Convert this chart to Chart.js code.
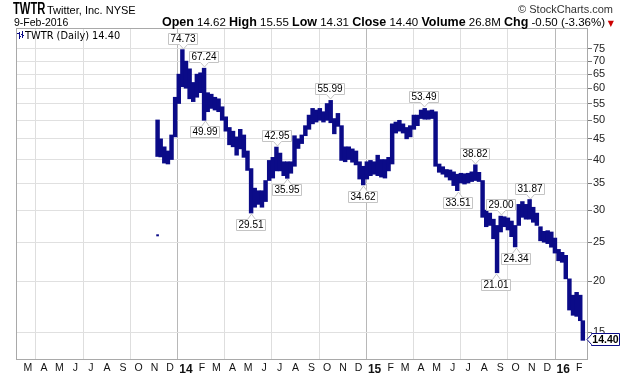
<!DOCTYPE html>
<html>
<head>
<meta charset="utf-8">
<script src="https://cdn.jsdelivr.net/npm/chart.js@4.4.1/dist/chart.umd.min.js"></script>
<style>
  body { margin: 0; background: #fff; }
  #wrap { position: relative; width: 620px; height: 376px; font-family: "Liberation Sans", Arial, sans-serif; color: #000; }
  #chart { position: absolute; left: 0; top: 0; }
  .hdr { position: absolute; white-space: nowrap; font-size: 11.5px; line-height: 13px; }
  .hdr b { font-size: 12.5px; }
  #sym { display: inline-block; font-weight: bold; font-size: 16px; line-height: 16px; transform: scaleX(0.7); transform-origin: left center; }
</style>
</head>
<body>
<div id="wrap">
  <canvas id="chart" width="620" height="376"></canvas>
  <div class="hdr" style="left:13px; top:1px;"><span id="sym">TWTR</span></div>
  <div class="hdr" style="left:47px; top:4px; font-size:11px;">Twitter, Inc. NYSE</div>
  <div class="hdr" style="right:7px; top:3px; color:#333; font-size:11px;">© StockCharts.com</div>
  <div class="hdr" style="left:14px; top:16px; font-size:10.5px;">9-Feb-2016</div>
  <div class="hdr" style="right:15px; top:16px;"><b>Open</b> 14.62 <b>High</b> 15.55 <b>Low</b> 14.31 <b>Close</b> 14.40 <b>Volume</b> 26.8M <b>Chg</b> -0.50 (-3.36%)</div>
  <div class="hdr" style="right:6px; top:17px; color:#cc0000; font-family:'DejaVu Sans',sans-serif; font-size:8px;">▼</div>
</div>
<script>
// TWTR daily chart, drawn as weekly high-low bars
const monthLetters = ['J', 'F', 'M', 'A', 'M', 'J', 'J', 'A', 'S', 'O', 'N', 'D'];
const yTicks = [15, 20, 25, 30, 35, 40, 45, 50, 55, 60, 65, 70, 75];
const lastClose = 14.40;

// week (mid-week date) of each bar
const weekDates = [
  '2013-11-07', '2013-11-13', '2013-11-20', '2013-11-27', '2013-12-04', '2013-12-11', '2013-12-18', '2013-12-25',
  '2014-01-01', '2014-01-08', '2014-01-15', '2014-01-22', '2014-01-29', '2014-02-05', '2014-02-12', '2014-02-19',
  '2014-02-26', '2014-03-05', '2014-03-12', '2014-03-19', '2014-03-26', '2014-04-02', '2014-04-09', '2014-04-16',
  '2014-04-23', '2014-04-30', '2014-05-07', '2014-05-14', '2014-05-21', '2014-05-28', '2014-06-04', '2014-06-11',
  '2014-06-18', '2014-06-25', '2014-07-02', '2014-07-09', '2014-07-16', '2014-07-23', '2014-07-30', '2014-08-06',
  '2014-08-13', '2014-08-20', '2014-08-27', '2014-09-03', '2014-09-10', '2014-09-17', '2014-09-24', '2014-10-01',
  '2014-10-08', '2014-10-15', '2014-10-22', '2014-10-29', '2014-11-05', '2014-11-12', '2014-11-19', '2014-11-26',
  '2014-12-03', '2014-12-10', '2014-12-17', '2014-12-24', '2014-12-31', '2015-01-07', '2015-01-14', '2015-01-21',
  '2015-01-28', '2015-02-04', '2015-02-11', '2015-02-18', '2015-02-25', '2015-03-04', '2015-03-11', '2015-03-18',
  '2015-03-25', '2015-04-01', '2015-04-08', '2015-04-15', '2015-04-22', '2015-04-29', '2015-05-06', '2015-05-13',
  '2015-05-20', '2015-05-27', '2015-06-03', '2015-06-10', '2015-06-17', '2015-06-24', '2015-07-01', '2015-07-08',
  '2015-07-15', '2015-07-22', '2015-07-29', '2015-08-05', '2015-08-12', '2015-08-19', '2015-08-26', '2015-09-02',
  '2015-09-09', '2015-09-16', '2015-09-23', '2015-09-30', '2015-10-07', '2015-10-14', '2015-10-21', '2015-10-28',
  '2015-11-04', '2015-11-11', '2015-11-18', '2015-11-25', '2015-12-02', '2015-12-09', '2015-12-16', '2015-12-23',
  '2015-12-30', '2016-01-06', '2016-01-13', '2016-01-20', '2016-01-27', '2016-02-03', '2016-02-08'
];

const weekLow = [
  40.7, 40.6, 39.2, 39.0, 40.0, 45.5, 55.0, 60.5,
  60.0, 56.5, 55.6, 57.0, 58.5, 49.99, 52.5, 53.5,
  53.0, 52.5, 50.0, 47.0, 43.5, 43.0, 41.0, 42.5,
  40.5, 37.6, 29.51, 30.5, 31.0, 30.5, 31.5, 35.5,
  36.0, 37.5, 37.5, 36.5, 35.95, 37.0, 38.5, 42.6,
  43.8, 45.8, 47.5, 49.0, 49.5, 50.0, 49.5, 50.0,
  49.3, 46.3, 48.3, 39.8, 39.5, 40.0, 39.4, 38.8,
  35.8, 34.62, 35.8, 36.5, 36.8, 36.5, 36.2, 36.0,
  37.5, 39.0, 46.5, 47.0, 46.5, 45.0, 45.5, 47.5,
  48.5, 50.5, 50.3, 50.3, 50.5, 38.5, 37.2, 36.8,
  36.2, 35.6, 34.5, 33.51, 35.0, 34.8, 35.0, 35.3,
  35.5, 35.3, 28.8, 27.3, 27.5, 25.5, 21.01, 26.5,
  27.3, 26.8, 25.8, 24.34, 27.5, 28.8, 28.5, 28.5,
  28.0, 27.5, 25.2, 25.0, 24.8, 24.3, 23.5, 22.5,
  22.3, 20.3, 17.0, 16.5, 16.4, 16.0, 14.31
];

const weekHigh = [
  50.1, 45.0, 43.0, 42.0, 46.0, 57.0, 65.0, 74.73,
  70.0, 67.0, 62.0, 65.0, 65.5, 67.24, 58.5, 58.0,
  57.0, 56.5, 54.0, 51.0, 48.0, 47.0, 45.5, 47.5,
  46.0, 42.0, 38.0, 34.0, 33.5, 33.5, 35.5, 39.8,
  40.5, 42.95, 41.5, 39.5, 39.5, 39.5, 45.8, 45.0,
  46.0, 48.5, 51.5, 53.5, 53.0, 53.5, 52.5, 55.0,
  55.99, 50.5, 52.0, 48.5, 43.0, 43.0, 42.5, 42.0,
  39.5, 38.5, 39.5, 39.8, 39.5, 41.0, 40.0, 40.0,
  40.5, 49.0, 49.5, 50.0, 49.0, 48.0, 48.5, 51.5,
  51.5, 53.0, 53.49, 52.8, 53.0, 52.5, 39.0, 38.4,
  37.8, 37.7, 37.3, 36.8, 37.0, 36.9, 37.0, 37.3,
  38.82, 37.2, 35.5, 30.0, 29.5, 28.5, 27.5, 29.0,
  28.9, 28.7, 28.2, 27.5, 31.0, 31.5, 31.0, 31.87,
  30.5, 29.5, 27.3, 26.6, 26.7, 26.5, 25.6, 24.0,
  23.6, 23.2, 20.3, 18.5, 18.8, 18.5, 16.0
];

// the lone print at the IPO price
const ipoDate = '2013-11-07';
const ipoRange = [25.9, 26.1];

// high / low call-outs
const annDates = ['2013-12-26', '2014-02-04', '2014-02-06', '2014-05-07', '2014-06-26', '2014-07-16', '2014-10-07', '2014-12-09',
  '2015-04-07', '2015-06-12', '2015-07-14', '2015-08-24', '2015-09-02', '2015-10-01', '2015-10-28'];
const annValues = [74.73, 67.24, 49.99, 29.51, 42.95, 35.95, 55.99, 34.62, 53.49, 33.51, 38.82, 21.01, 29.00, 24.34, 31.87];
const annAbove = [true, true, false, false, true, false, true, false, true, false, true, false, true, false, true];

const NAVY = '#0b0b88';
const BASE = Date.UTC(2013, 2, 1);
function dayNum(s) {
    const p = s.split('-').map(Number);
    return (Date.UTC(p[0], p[1] - 1, p[2]) - BASE) / 86400000;
}
function monthOf(v) {
    return new Date(BASE + v * 86400000).getUTCMonth();
}

const bars = weekDates.map((d, i) => ({ x: dayNum(d), y: [weekLow[i], weekHigh[i]] }));

const overlay = {
    id: 'overlay',
    beforeDatasetsDraw(chart) {
        const { ctx, chartArea: a } = chart;
        ctx.save();
        ctx.strokeStyle = '#a9a9a9';
        ctx.lineWidth = 1;
        ctx.strokeRect(a.left + 0.5, a.top + 0.5, a.right - a.left - 1, a.bottom - a.top);
        ctx.restore();
    },
    afterDraw(chart) {
        const { ctx, chartArea: a, scales } = chart;
        const xs = scales.x, ys = scales.y;
        ctx.save();
        ctx.font = '10px "Liberation Sans", Arial, sans-serif';
        ctx.textBaseline = 'middle';
        ctx.textAlign = 'center';

        // call-out boxes
        annValues.forEach((v, i) => {
            const px = Math.round(xs.getPixelForValue(dayNum(annDates[i])));
            const py = Math.round(ys.getPixelForValue(v));
            const txt = v.toFixed(2);
            const w = Math.round(ctx.measureText(txt).width) + 4, h = 11;
            const left = px - Math.round(w / 2) + 0.5;
            let top;
            ctx.beginPath();
            if (annAbove[i]) {
                top = py - 6 - h + 0.5;
                ctx.moveTo(left, top);
                ctx.lineTo(left + w, top);
                ctx.lineTo(left + w, top + h);
                ctx.lineTo(px + 4.5, top + h);
                ctx.lineTo(px + 0.5, py - 1);
                ctx.lineTo(px - 3.5, top + h);
                ctx.lineTo(left, top + h);
            } else {
                top = py + 6 + 0.5;
                ctx.moveTo(left, top);
                ctx.lineTo(px - 3.5, top);
                ctx.lineTo(px + 0.5, py + 1);
                ctx.lineTo(px + 4.5, top);
                ctx.lineTo(left + w, top);
                ctx.lineTo(left + w, top + h);
                ctx.lineTo(left, top + h);
            }
            ctx.closePath();
            ctx.fillStyle = '#fff';
            ctx.fill();
            ctx.strokeStyle = '#c4c4c4';
            ctx.lineWidth = 1;
            ctx.stroke();
            ctx.fillStyle = '#000';
            ctx.fillText(txt, left + w / 2, top + h / 2 + 0.5);
        });

        // legend inside the plot
        ctx.fillStyle = NAVY;
        ctx.fillRect(19, 32, 1, 7);
        ctx.fillRect(17, 33, 2, 1);
        ctx.fillRect(20, 36, 1, 1);
        ctx.fillRect(22, 31, 1, 7);
        ctx.fillRect(21, 34, 1, 1);
        ctx.fillRect(23, 35, 1, 1);
        ctx.textAlign = 'left';
        ctx.fillStyle = '#000';
        ctx.font = '9.8px "DejaVu Sans", sans-serif';
        ctx.fillText('TWTR (Daily) ' + lastClose.toFixed(2), 25, 36);

        // last price tag on the axis
        const ly = Math.round(ys.getPixelForValue(lastClose)) + 0.5;
        const bx = a.right + 3.5, bw = 28, bh = 12;
        ctx.beginPath();
        ctx.moveTo(a.right - 1, ly);
        ctx.lineTo(bx, ly - 5);
        ctx.lineTo(bx, ly - bh / 2);
        ctx.lineTo(bx + bw, ly - bh / 2);
        ctx.lineTo(bx + bw, ly + bh / 2);
        ctx.lineTo(bx, ly + bh / 2);
        ctx.lineTo(bx, ly + 5);
        ctx.closePath();
        ctx.fillStyle = '#fff';
        ctx.fill();
        ctx.strokeStyle = NAVY;
        ctx.stroke();
        ctx.fillStyle = '#000';
        ctx.font = 'bold 10.5px "Liberation Sans", Arial, sans-serif';
        ctx.textAlign = 'center';
        ctx.fillText(lastClose.toFixed(2), bx + bw / 2, ly + 0.5);
        ctx.restore();
    }
};

const ctx = document.getElementById('chart');
new Chart(ctx, {
    type: 'bar',
    data: {
        datasets: [{
            data: bars,
            backgroundColor: NAVY,
            barThickness: 3.8,
            grouped: false
        }, {
            data: [{ x: dayNum(ipoDate), y: ipoRange }],
            backgroundColor: NAVY,
            barThickness: 2,
            grouped: false
        }]
    },
    options: {
        responsive: false,
        animation: false,
        layout: { padding: { left: 16, top: 28, right: 0, bottom: 0 } },
        plugins: { legend: { display: false }, tooltip: { enabled: false } },
        scales: {
            x: {
                type: 'linear',
                min: -23,
                max: 1084,
                offset: false,
                afterBuildTicks(scale) {
                    const t = [];
                    for (let i = 0; i < 36; i++) {
                        const m = (2 + i) % 12, y = 2013 + Math.floor((2 + i) / 12);
                        t.push({ value: dayNum(y + '-' + String(m + 1).padStart(2, '0') + '-01') });
                    }
                    scale.ticks = t;
                },
                afterFit(scale) { scale.height = 17; },
                ticks: {
                    autoSkip: false,
                    maxRotation: 0,
                    minRotation: 0,
                    padding: 3,
                    color: '#111',
                    callback(v) {
                        const m = monthOf(v);
                        if (m === 0) return String(new Date(BASE + v * 86400000).getUTCFullYear() % 100);
                        return monthLetters[m];
                    },
                    font(c) {
                        const jan = c.tick && monthOf(c.tick.value) === 0;
                        return { family: '"Liberation Sans", Arial, sans-serif', size: jan ? 12 : 10.5, weight: jan ? 'bold' : 'normal' };
                    }
                },
                grid: {
                    drawTicks: false,
                    color(c) {
                        if (!c.tick) return 'rgba(0,0,0,0)';
                        const m = monthOf(c.tick.value);
                        if (m === 0) return '#b8b8b8';
                        return m % 3 === 0 ? '#dedede' : 'rgba(0,0,0,0)';
                    }
                },
                border: { display: false }
            },
            y: {
                type: 'logarithmic',
                position: 'right',
                min: 12.87,
                max: 84.5,
                afterBuildTicks(scale) {
                    scale.ticks = yTicks.map(v => ({ value: v }));
                },
                afterFit(scale) { scale.width = 32; },
                ticks: {
                    autoSkip: false,
                    padding: 1,
                    color: '#222',
                    font: { family: '"Liberation Sans", Arial, sans-serif', size: 11 },
                    callback: v => String(v)
                },
                grid: {
                    color: '#e0e0e0',
                    tickLength: 4,
                    tickColor: '#777'
                },
                border: { display: false }
            }
        }
    },
    plugins: [overlay]
});
</script>
</body>
</html>
